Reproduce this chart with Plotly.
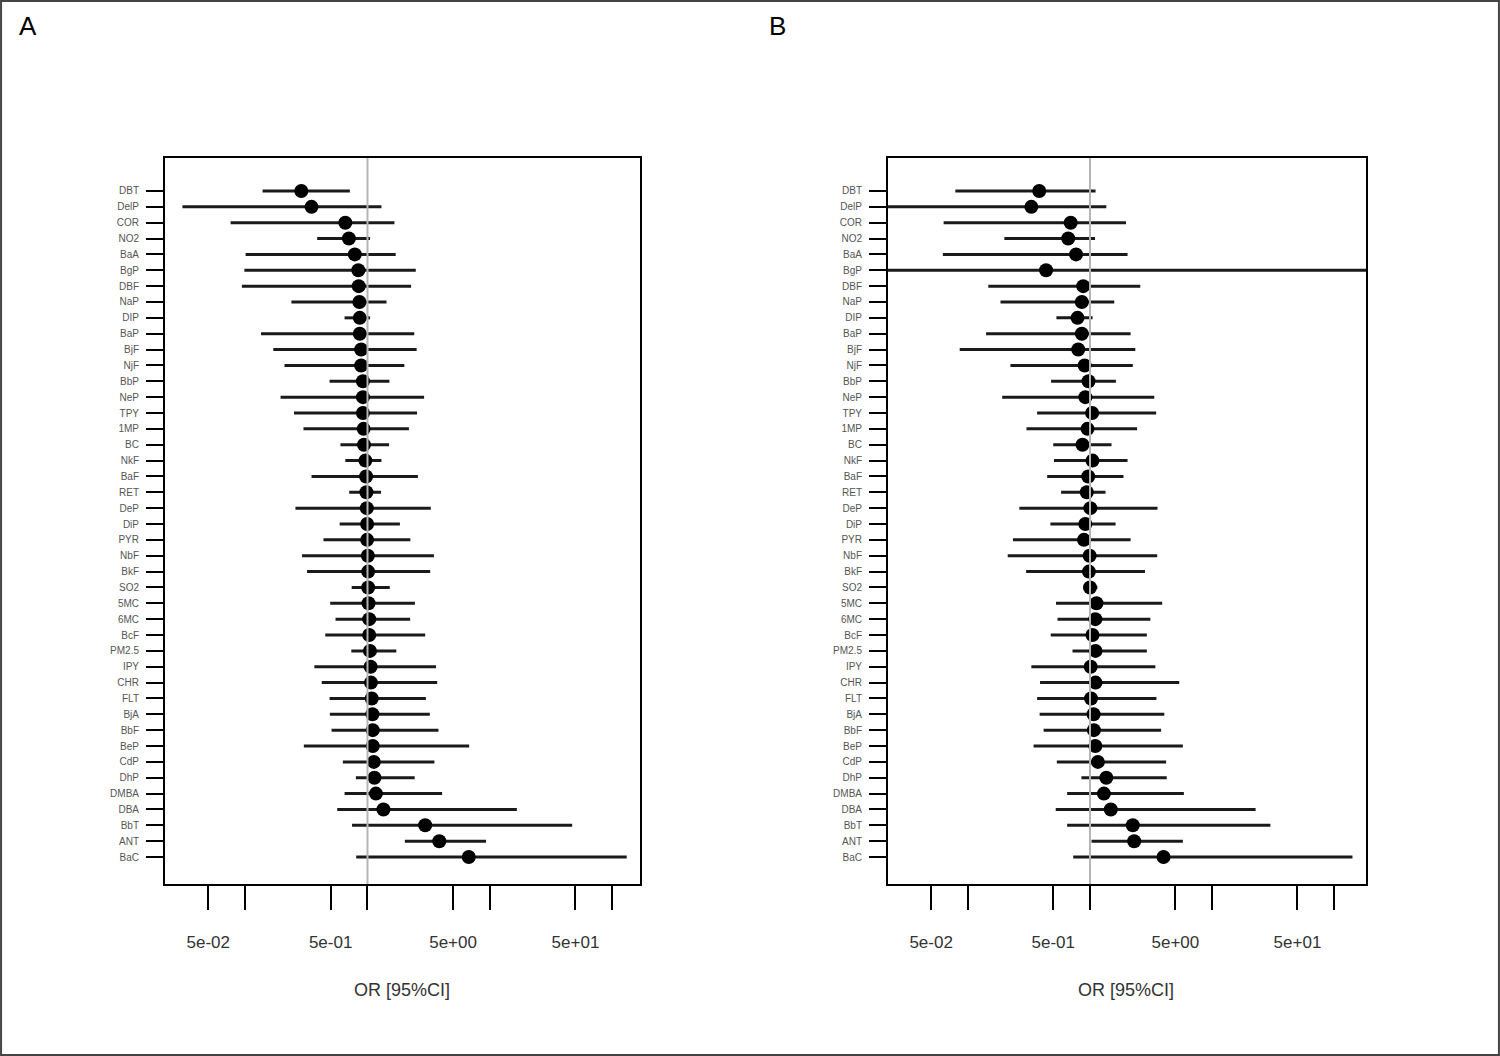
import plotly.graph_objects as go

# ---------------------- data ----------------------
labels = ['DBT', 'DelP', 'COR', 'NO2', 'BaA', 'BgP', 'DBF', 'NaP', 'DIP', 'BaP', 'BjF', 'NjF', 'BbP',
          'NeP', 'TPY', '1MP', 'BC', 'NkF', 'BaF', 'RET', 'DeP', 'DiP', 'PYR', 'NbF', 'BkF', 'SO2',
          '5MC', '6MC', 'BcF', 'PM2.5', 'IPY', 'CHR', 'FLT', 'BjA', 'BbF', 'BeP', 'CdP', 'DhP',
          'DMBA', 'DBA', 'BbT', 'ANT', 'BaC']

# panel A
a_or = [0.288, 0.349, 0.659, 0.705, 0.788, 0.842, 0.848, 0.859, 0.865, 0.865, 0.888, 0.888, 0.918,
        0.918, 0.918, 0.930, 0.936, 0.961, 0.974, 0.980, 0.987, 0.993, 0.993, 1.007, 1.013, 1.013,
        1.020, 1.033, 1.033, 1.047, 1.061, 1.068, 1.083, 1.097, 1.104, 1.104, 1.126, 1.140,
        1.172, 1.350, 2.96, 3.86, 6.72]
a_lo = [0.139, 0.0308, 0.0762, 0.388, 0.101, 0.0987, 0.0942, 0.239, 0.650, 0.135, 0.170, 0.210, 0.490,
        0.195, 0.251, 0.300, 0.601, 0.659, 0.349, 0.709, 0.258, 0.593, 0.437, 0.292, 0.321, 0.743,
        0.496, 0.548, 0.452, 0.738, 0.368, 0.423, 0.490, 0.493, 0.509, 0.302, 0.629, 0.804,
        0.650, 0.566, 0.748, 2.02, 0.809]
a_hi = [0.718, 1.30, 1.66, 1.05, 1.70, 2.48, 2.27, 1.43, 1.05, 2.41, 2.52, 2.00, 1.51,
        2.90, 2.54, 2.18, 1.50, 1.30, 2.58, 1.29, 3.29, 1.84, 2.24, 3.49, 3.25, 1.52,
        2.44, 2.23, 2.96, 1.72, 3.63, 3.71, 3.00, 3.23, 3.80, 6.77, 3.52, 2.43,
        4.07, 16.6, 47.0, 9.30, 131.0]

# panel B
b_or = [0.384, 0.331, 0.695, 0.663, 0.769, 0.437, 0.880, 0.857, 0.790, 0.857, 0.801, 0.904, 0.973,
        0.916, 1.041, 0.954, 0.868, 1.048, 0.967, 0.941, 1.007, 0.916, 0.892, 0.993, 0.980, 1.000,
        1.130, 1.106, 1.048, 1.110, 1.013, 1.110, 1.020, 1.070, 1.077, 1.106, 1.160, 1.360,
        1.300, 1.480, 2.24, 2.30, 4.00]
b_lo = [0.079, 0.005, 0.0633, 0.199, 0.0624, 0.0001, 0.147, 0.185, 0.531, 0.141, 0.0857, 0.223, 0.480,
        0.191, 0.369, 0.302, 0.500, 0.507, 0.446, 0.580, 0.264, 0.474, 0.234, 0.212, 0.300, 0.892,
        0.527, 0.542, 0.477, 0.719, 0.331, 0.390, 0.369, 0.387, 0.417, 0.345, 0.535, 0.851,
        0.650, 0.524, 0.650, 1.03, 0.729]
b_hi = [1.11, 1.36, 1.97, 1.10, 2.03, 10000.0, 2.58, 1.58, 1.05, 2.15, 2.35, 2.24, 1.63,
        3.36, 3.48, 2.43, 1.50, 2.03, 1.88, 1.34, 3.57, 1.62, 2.15, 3.55, 2.82, 1.15,
        3.90, 3.12, 2.92, 2.92, 3.43, 5.38, 3.50, 4.06, 3.82, 5.76, 4.20, 4.25,
        5.87, 22.7, 30.0, 5.76, 141.0]

tick_vals = [0.05, 0.1, 0.5, 1, 5, 10, 50, 100]
tick_text = ['5e-02', '', '5e-01', '', '5e+00', '', '5e+01', '']

W, H = 1500, 1056


# ---------------------- helpers ----------------------
def ci_segments(lo, hi):
    xs, ys = [], []
    for i, (l, h) in enumerate(zip(lo, hi)):
        xs += [l, h, None]
        ys += [i, i, None]
    return xs, ys


def add_panel(fig, orv, lo, hi, xa, ya):
    xs, ys = ci_segments(lo, hi)
    fig.add_trace(go.Scatter(x=xs, y=ys, mode='lines', line=dict(color='#1a1a1a', width=3),
                             xaxis=xa, yaxis=ya, hoverinfo='skip', showlegend=False))
    fig.add_trace(go.Scatter(x=orv, y=list(range(len(orv))), mode='markers',
                             marker=dict(color='black', size=14), text=labels,
                             hovertemplate='%{text}: %{x:.2f}<extra></extra>',
                             xaxis=xa, yaxis=ya, showlegend=False, cliponaxis=False))
    # reference line at OR = 1, drawn over the points like in the original
    fig.add_shape(type='line', xref=xa, yref=ya + ' domain', x0=1, x1=1, y0=0, y1=1,
                  line=dict(color='#b5b5b5', width=2), layer='above')


fig = go.Figure()
add_panel(fig, a_or, a_lo, a_hi, 'x', 'y')
add_panel(fig, b_or, b_lo, b_hi, 'x2', 'y2')

ydom = [1 - 884 / H, 1 - 158 / H]
yrange = [43.70, -2.08]

xaxis_style = dict(type='log', tickvals=tick_vals, ticktext=tick_text, ticks='outside', ticklen=24,
                   tickwidth=2, tickcolor='black', showline=True, linewidth=2, linecolor='black',
                   mirror=True, showgrid=False, zeroline=False, ticklabelstandoff=18,
                   tickfont=dict(family='Liberation Sans', size=17, color='#333333'))
yaxis_style = dict(range=yrange, tickvals=list(range(len(labels))), ticktext=labels, ticks='outside',
                   ticklen=17, tickwidth=2, tickcolor='black', showline=True, linewidth=2,
                   linecolor='black', mirror=True, showgrid=False, zeroline=False, domain=ydom,
                   ticklabelstandoff=5,
                   tickfont=dict(family='Liberation Sans', size=10, color='#555555'))

fig.update_layout(
    width=W, height=H,
    margin=dict(l=0, r=0, t=0, b=0),
    paper_bgcolor='white', plot_bgcolor='white',
    xaxis=dict(xaxis_style, domain=[165 / W, 640 / W], range=[-1.654, 2.226], anchor='y'),
    yaxis=dict(yaxis_style, anchor='x'),
    xaxis2=dict(xaxis_style, domain=[888 / W, 1366 / W], range=[-1.654, 2.260], anchor='y2'),
    yaxis2=dict(yaxis_style, anchor='x2'),
)

# panel letters and axis titles
for txt, px in [('A', 28), ('B', 777)]:
    fig.add_annotation(text=txt, x=px / W, y=1 - 26 / H, xref='paper', yref='paper', showarrow=False,
                       xanchor='center', yanchor='middle',
                       font=dict(family='Liberation Sans', size=26, color='black'))
for px in [402, 1126]:
    fig.add_annotation(text='OR [95%CI]', x=px / W, y=1 - 990 / H, xref='paper', yref='paper',
                       showarrow=False, xanchor='center', yanchor='middle',
                       font=dict(family='Liberation Sans', size=18, color='#333333'))

# outer frame
fig.add_shape(type='rect', xref='paper', yref='paper', x0=0.0007, x1=0.9993, y0=0.001, y1=0.999,
              line=dict(color='#444444', width=2))

fig.write_html("out.html", config={'displayModeBar': False},
               post_script="document.body.style.margin='0';")
